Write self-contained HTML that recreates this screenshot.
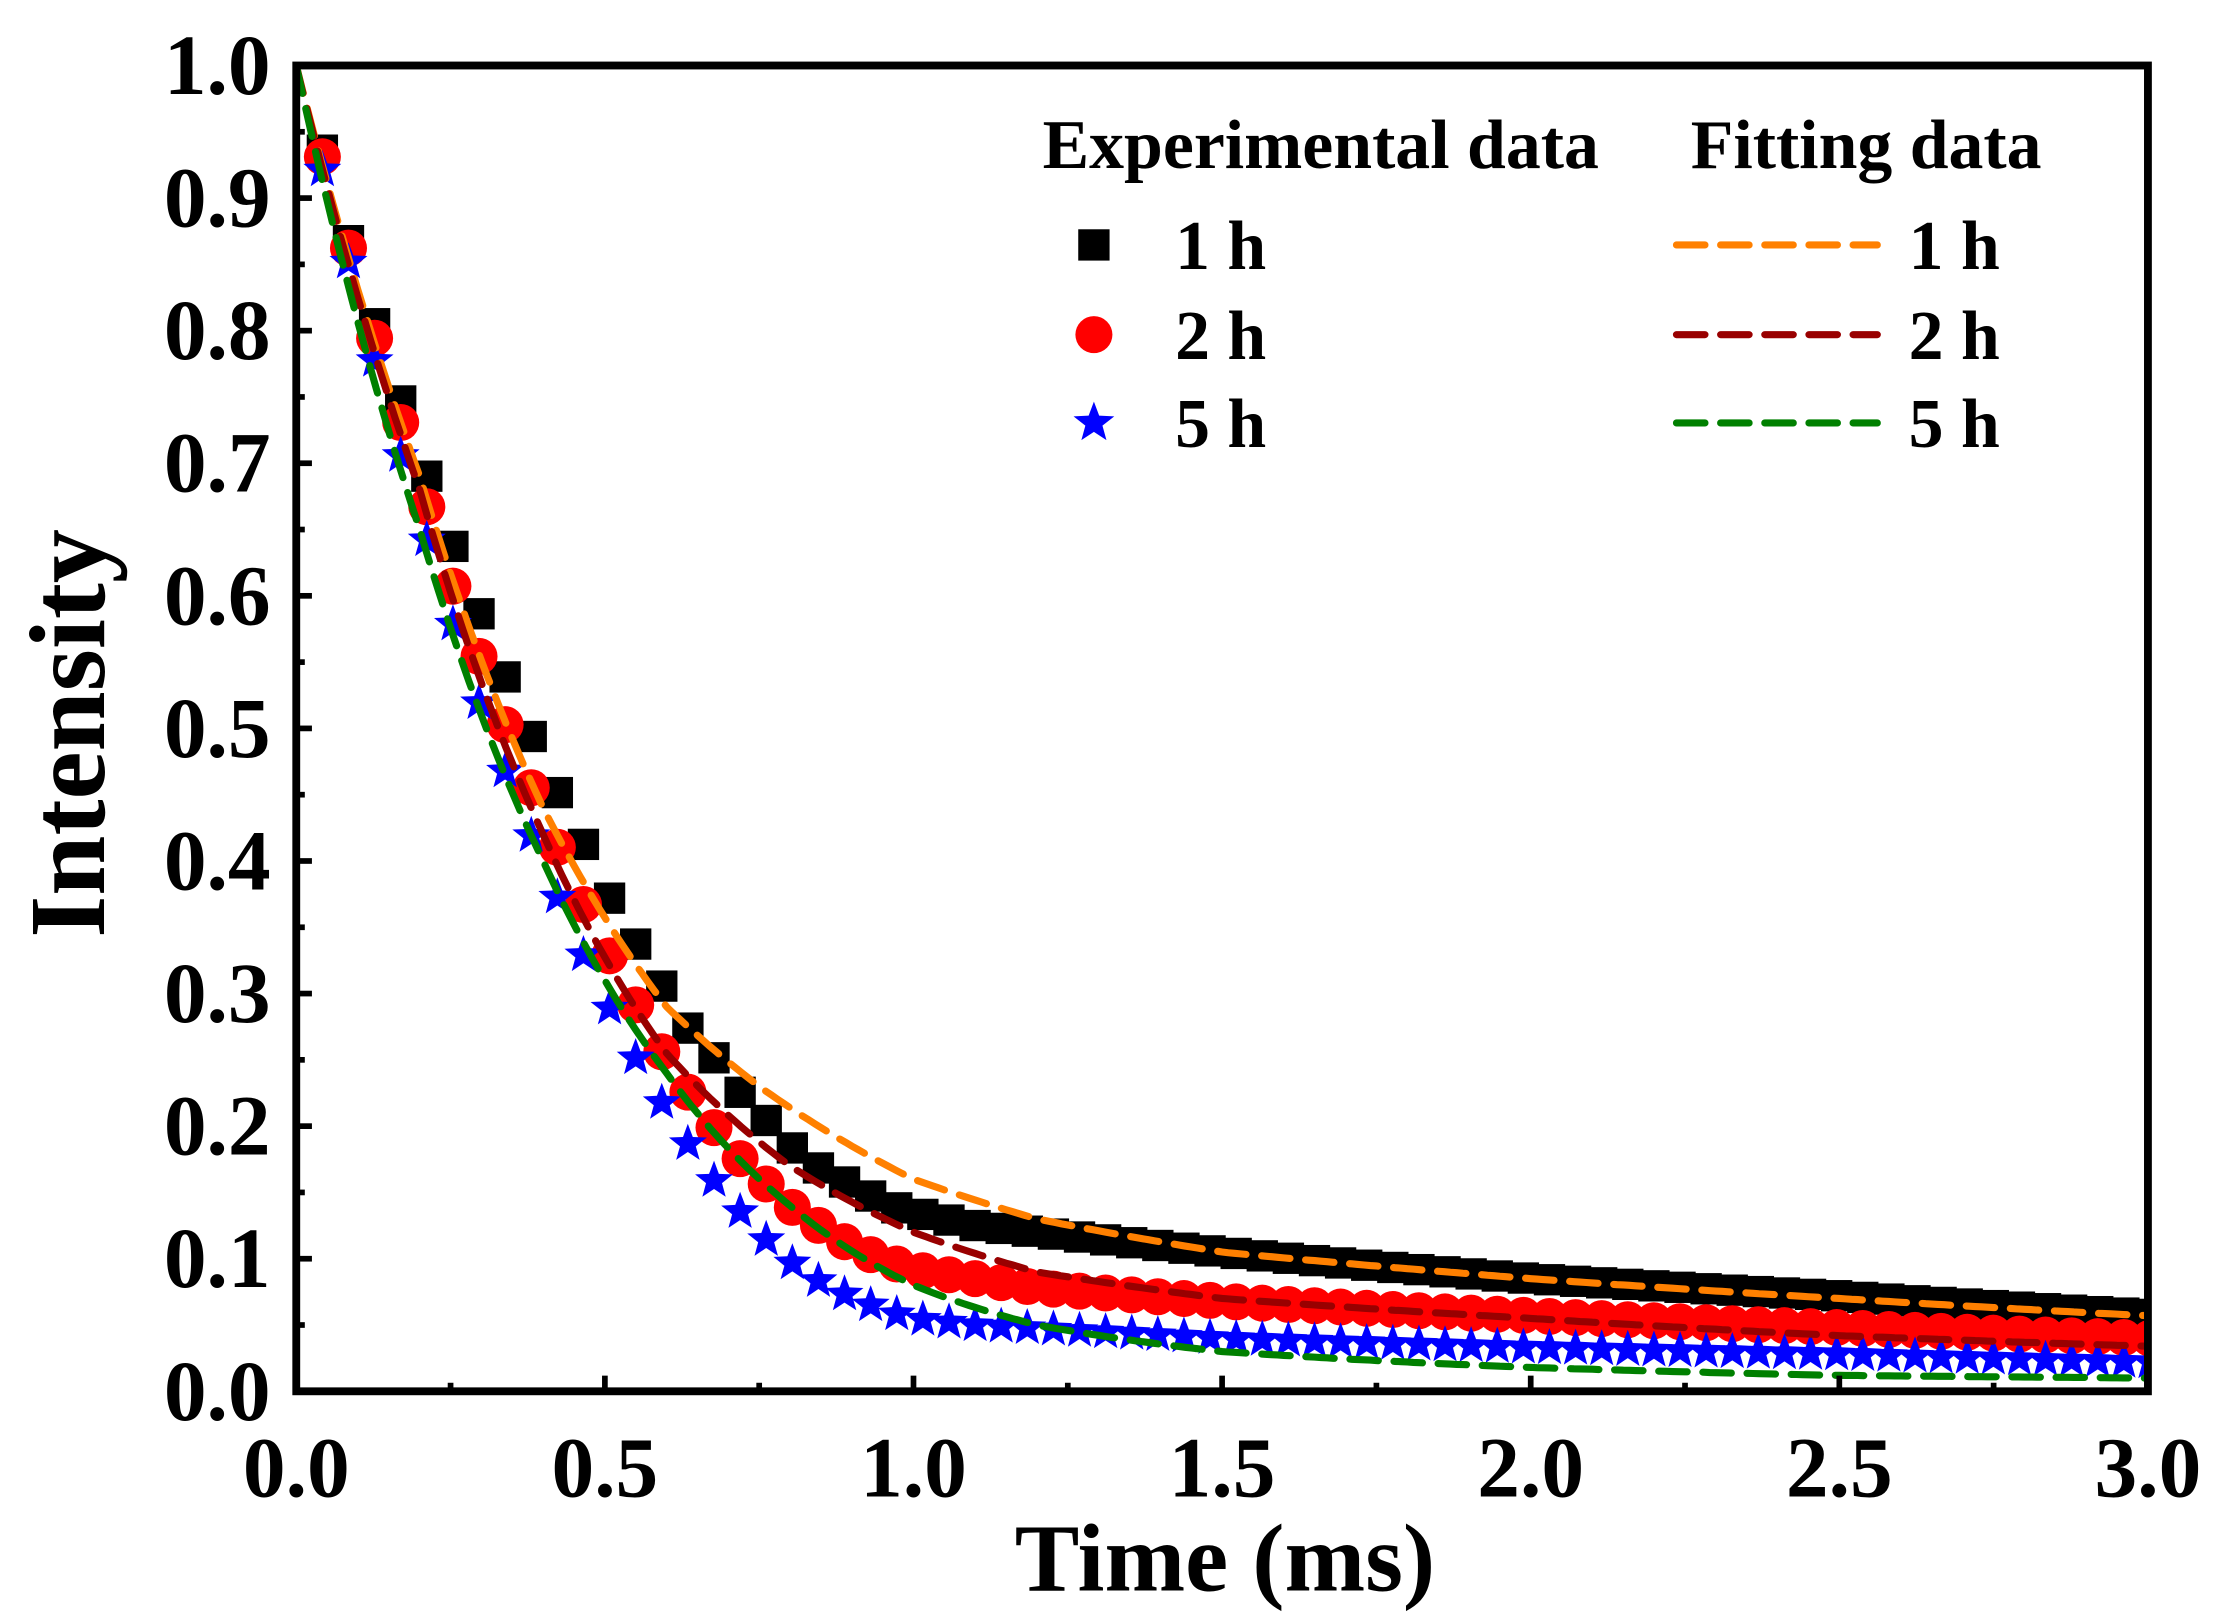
<!DOCTYPE html>
<html><head><meta charset="utf-8"><style>
html,body{margin:0;padding:0;background:#fff}
svg{display:block}
text{font-family:"Liberation Serif",serif;font-weight:bold;fill:#000}
</style></head><body>
<svg id="s" width="2222" height="1622" viewBox="0 0 1560 1139" preserveAspectRatio="none" xmlns="http://www.w3.org/2000/svg"></svg>
<script>
const S=document.getElementById('s');
const L=208,R=1508,T=46,B=977;
const X=t=>L+(R-L)*t/3, Y=v=>B-(B-T)*v;
let h='';
function interp(tb,t){for(let i=0;i<tb.length-1;i++){if(t<=tb[i+1][0]){const [a,ya]=tb[i],[b,yb]=tb[i+1];const f=(t-a)/(b-a);return Math.exp(Math.log(ya)*(1-f)+Math.log(yb)*f);}}return tb[tb.length-1][1];}
const d1=[[0,1],[0.04,0.94],[0.08,0.875],[0.12,0.815],[0.16,0.76],[0.2,0.705],[0.24,0.655],[0.28,0.605],[0.32,0.56],[0.36,0.515],[0.4,0.475],[0.44,0.435],[0.48,0.4],[0.52,0.36],[0.56,0.33],[0.6,0.3],[0.64,0.27],[0.68,0.25],[0.72,0.225],[0.76,0.205],[0.8,0.185],[0.84,0.17],[0.88,0.16],[0.92,0.15],[0.96,0.14],[1.0,0.135],[1.1,0.125],[1.2,0.12],[1.5,0.105],[2.0,0.085],[2.5,0.072],[3.0,0.058]];
const d2=[[0,1],[0.04,0.935],[0.08,0.87],[0.12,0.805],[0.16,0.745],[0.2,0.685],[0.24,0.625],[0.28,0.575],[0.32,0.525],[0.36,0.478],[0.4,0.435],[0.44,0.393],[0.48,0.353],[0.52,0.318],[0.56,0.283],[0.6,0.25],[0.64,0.222],[0.68,0.197],[0.72,0.175],[0.76,0.157],[0.8,0.14],[0.84,0.127],[0.88,0.115],[0.92,0.105],[0.96,0.098],[1.0,0.092],[1.1,0.085],[1.2,0.078],[1.5,0.068],[2.0,0.057],[2.5,0.048],[3.0,0.04]];
const d3=[[0,1],[0.04,0.925],[0.08,0.86],[0.12,0.79],[0.16,0.72],[0.2,0.66],[0.24,0.6],[0.28,0.54],[0.32,0.49],[0.36,0.443],[0.4,0.398],[0.44,0.355],[0.48,0.315],[0.52,0.278],[0.56,0.243],[0.6,0.212],[0.64,0.183],[0.68,0.157],[0.72,0.135],[0.76,0.115],[0.8,0.098],[0.84,0.085],[0.88,0.075],[0.92,0.067],[0.96,0.06],[1.0,0.055],[1.1,0.05],[1.3,0.045],[1.5,0.04],[2.0,0.033],[2.5,0.028],[3.0,0.022]];
const f1=[[0,1],[0.2,0.69],[0.4,0.44],[0.6,0.29],[0.75,0.23],[0.9,0.185],[1.0,0.16],[1.2,0.13],[1.5,0.105],[2.0,0.085],[2.5,0.07],[3.0,0.057]];
const f2=[[0,1],[0.2,0.68],[0.4,0.42],[0.6,0.255],[0.8,0.17],[1.0,0.12],[1.2,0.09],[1.5,0.07],[2.0,0.055],[2.5,0.042],[3.0,0.034]];
const f3=[[0,1],[0.2,0.65],[0.4,0.4],[0.6,0.24],[0.8,0.14],[1.0,0.08],[1.2,0.05],[1.5,0.03],[2.0,0.018],[2.5,0.012],[3.0,0.01]];
function star(cx,cy,r){let p=[];for(let i=0;i<10;i++){const a=-Math.PI/2+i*Math.PI/5,rr=i%2?r*0.42:r;p.push((cx+rr*Math.cos(a)).toFixed(1)+','+(cy+rr*Math.sin(a)).toFixed(1));}return `<polygon points="${p.join(' ')}" fill="#0000ff"/>`;}
const dt=0.0423;
h+=`<clipPath id="c"><rect x="${L}" y="${T}" width="${R-L}" height="${B-T}"/></clipPath><g clip-path="url(#c)">`;
for(let t=dt;t<=3.02;t+=dt){const x=X(t);h+=`<rect x="${x-11}" y="${Y(interp(d1,t))-11}" width="22" height="22" fill="#000"/>`;}
for(let t=dt;t<=3.02;t+=dt){h+=`<circle cx="${X(t)}" cy="${Y(interp(d2,t))}" r="13" fill="#ff0000"/>`;}
for(let t=dt;t<=3.02;t+=dt){h+=star(X(t),Y(interp(d3,t)),14);}
function line(tb,c){let p=[];for(let t=0;t<=3;t+=0.01)p.push(X(t).toFixed(1)+','+Y(interp(tb,t)).toFixed(1));return `<polyline points="${p.join(' ')}" fill="none" stroke="${c}" stroke-width="5" stroke-dasharray="20 11" stroke-linecap="round"/>`;}
h+=line(f1,'#ff8000')+line(f2,'#990000')+line(f3,'#008000');
h+='</g>';
h+=`<rect x="${L}" y="${T}" width="${R-L}" height="${B-T}" fill="none" stroke="#000" stroke-width="5.5"/>`;
for(let i=0;i<=10;i++){const y=Y(i/10);h+=`<line x1="${L}" x2="${L+11}" y1="${y}" y2="${y}" stroke="#000" stroke-width="4"/>`;if(i<10){const ym=Y(i/10+0.05);h+=`<line x1="${L}" x2="${L+6}" y1="${ym}" y2="${ym}" stroke="#000" stroke-width="4"/>`;}
h+=`<text x="190" y="${y+20}" text-anchor="end" font-size="60">${(i/10).toFixed(1)}</text>`;}
for(let i=0;i<=6;i++){const x=X(i*0.5);h+=`<line x1="${x}" x2="${x}" y1="${B}" y2="${B-11}" stroke="#000" stroke-width="4"/>`;if(i<6){const xm=X(i*0.5+0.25);h+=`<line x1="${xm}" x2="${xm}" y1="${B}" y2="${B-6}" stroke="#000" stroke-width="4"/>`;}
h+=`<text x="${x}" y="1051" text-anchor="middle" font-size="60">${(i*0.5).toFixed(1)}</text>`;}
h+=`<text x="860" y="1117" text-anchor="middle" font-size="68">Time (ms)</text>`;
h+=`<text transform="translate(73,515) rotate(-90)" text-anchor="middle" font-size="76">Intensity</text>`;
h+=`<text x="732" y="118" font-size="49">Experimental data</text><text x="1187" y="118" font-size="49">Fitting data</text>`;
const ly=[172,235,297],lb=['1 h','2 h','5 h'];
h+=`<rect x="757" y="161" width="22" height="22" fill="#000"/><circle cx="768" cy="235" r="13" fill="#ff0000"/>`+star(768,297,15);
const fc=['#ff8000','#990000','#008000'];
for(let i=0;i<3;i++){h+=`<text x="825" y="${ly[i]+17}" font-size="49">${lb[i]}</text><text x="1340" y="${ly[i]+17}" font-size="49">${lb[i]}</text>`;
h+=`<line x1="1177" x2="1318" y1="${ly[i]}" y2="${ly[i]}" stroke="${fc[i]}" stroke-width="5" stroke-dasharray="20 11" stroke-linecap="round"/>`;}
S.innerHTML=h;
</script>
</body></html>
